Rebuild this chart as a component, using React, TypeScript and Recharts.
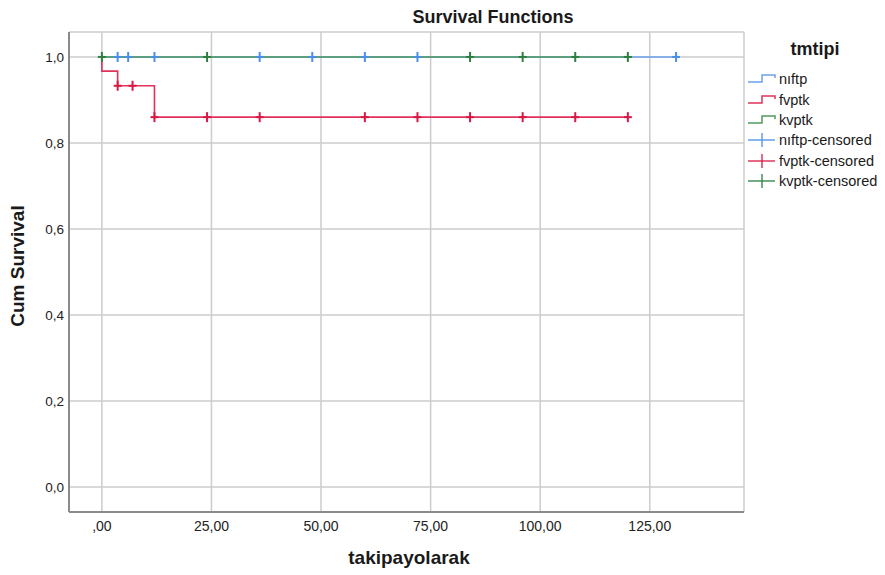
import {
  ComposedChart,
  Line,
  Scatter,
  XAxis,
  YAxis,
  CartesianGrid,
} from 'recharts'

// step vertices (time, cum survival) per group
const niftpTimes = [0, 131]
const niftpSurv = [1, 1]
const fvptkTimes = [0, 0, 3.6, 12, 120]
const fvptkSurv = [1, 0.967, 0.933, 0.86, 0.86]
const kvptkTimes = [0, 120]
const kvptkSurv = [1, 1]

// censored cases
const niftpCensT = [3.6, 6, 12, 36, 48, 60, 72, 131]
const niftpCensS = [1, 1, 1, 1, 1, 1, 1, 1]
const fvptkCensT = [3.6, 7, 12, 24, 36, 60, 72, 84, 96, 108, 120]
const fvptkCensS = [0.933, 0.933, 0.86, 0.86, 0.86, 0.86, 0.86, 0.86, 0.86, 0.86, 0.86]
const kvptkCensT = [0, 24, 84, 96, 108, 120]
const kvptkCensS = [1, 1, 1, 1, 1, 1]

const xTicks = [0, 25, 50, 75, 100, 125]
const yTicks = [0, 0.2, 0.4, 0.6, 0.8, 1]

const groups = ['nıftp', 'fvptk', 'kvptk']
const LINE_COLORS = ['#6ea2ea', '#e0325a', '#4f9a5f']
const CENS_COLORS = ['#4a8fe6', '#d81843', '#2b7f40']

const zip = (t: number[], s: number[]) => t.map((v, i) => ({ t: v, s: s[i] }))

const FONT = '"Liberation Sans", Arial, sans-serif'

const Cross = (color: string) => (props: any) => {
  const { cx, cy } = props
  if (cx == null || cy == null) return <g />
  return (
    <g stroke={color} strokeWidth={2}>
      <line x1={cx - 4} y1={cy} x2={cx + 4} y2={cy} />
      <line x1={cx} y1={cy - 5} x2={cx} y2={cy + 5} />
    </g>
  )
}

const fmtX = (v: number) => (v === 0 ? ',00' : v.toFixed(2).replace('.', ','))
const fmtY = (v: number) => v.toFixed(1).replace('.', ',')

function StepIcon({ color }: { color: string }) {
  return (
    <svg width={28} height={12} style={{ display: 'block' }}>
      <polyline
        points='0,9 14,9 14,2 27,2 27,5'
        fill='none'
        stroke={color}
        strokeWidth={1.5}
      />
    </svg>
  )
}

function CrossIcon({ color }: { color: string }) {
  return (
    <svg width={28} height={14} style={{ display: 'block' }}>
      <g stroke={color} strokeWidth={1.3}>
        <line x1={0} y1={7} x2={27} y2={7} />
        <line x1={14} y1={0} x2={14} y2={14} />
      </g>
    </svg>
  )
}

export default function App() {
  const lines = [
    zip(niftpTimes, niftpSurv),
    zip(fvptkTimes, fvptkSurv),
    zip(kvptkTimes, kvptkSurv),
  ]
  const cens = [
    zip(niftpCensT, niftpCensS),
    zip(fvptkCensT, fvptkCensS),
    zip(kvptkCensT, kvptkCensS),
  ]

  return (
    <div
      style={{
        position: 'absolute',
        left: 0,
        top: 0,
        width: 885,
        height: 575,
        background: '#fff',
        fontFamily: FONT,
        color: '#1a1a1a',
      }}
    >
      <ComposedChart
        width={885}
        height={575}
        margin={{ top: 32, right: 141, bottom: 0, left: 0 }}
      >
        <CartesianGrid stroke='#cccccc' strokeWidth={1.5} />
        <XAxis
          dataKey='t'
          type='number'
          domain={[-7.5, 146.5]}
          ticks={xTicks}
          tickFormatter={fmtX}
          allowDataOverflow
          height={63}
          tickSize={0}
          tickMargin={9}
          axisLine={{ stroke: '#8a8a8a', strokeWidth: 2 }}
          tick={{ fill: '#222', fontSize: 14, fontFamily: FONT }}
        />
        <YAxis
          type='number'
          domain={[-0.058, 1.058]}
          ticks={yTicks}
          tickFormatter={fmtY}
          allowDataOverflow
          width={69}
          tickSize={0}
          tickMargin={5}
          axisLine={{ stroke: '#8a8a8a', strokeWidth: 2 }}
          tick={{ fill: '#222', fontSize: 13.5, fontFamily: FONT }}
        />
        {lines.map((d, i) => (
          <Line
            key={groups[i]}
            data={d}
            dataKey='s'
            type='stepAfter'
            stroke={LINE_COLORS[i]}
            strokeWidth={1.6}
            dot={false}
            activeDot={false}
            isAnimationActive={false}
          />
        ))}
        {cens.map((d, i) => (
          <Scatter
            key={groups[i] + '-c'}
            data={d}
            dataKey='s'
            shape={Cross(CENS_COLORS[i])}
            isAnimationActive={false}
          />
        ))}
      </ComposedChart>

      <div
        style={{
          position: 'absolute',
          left: 0,
          width: 986,
          top: 7,
          textAlign: 'center',
          fontSize: 18,
          fontWeight: 'bold',
        }}
      >
        Survival Functions
      </div>
      <div
        style={{
          position: 'absolute',
          left: 69,
          width: 680,
          top: 547,
          textAlign: 'center',
          fontSize: 19,
          fontWeight: 'bold',
        }}
      >
        takipayolarak
      </div>
      <div
        style={{
          position: 'absolute',
          left: 18,
          top: 266,
          transform: 'translate(-50%, -50%) rotate(-90deg)',
          whiteSpace: 'nowrap',
          fontSize: 19,
          fontWeight: 'bold',
        }}
      >
        Cum Survival
      </div>

      <div style={{ position: 'absolute', left: 748, top: 39 }}>
        <div
          style={{
            width: 134,
            textAlign: 'center',
            fontSize: 18,
            fontWeight: 'bold',
            marginBottom: 9,
          }}
        >
          tmtipi
        </div>
        {groups.map((g, i) => (
          <div
            key={g}
            style={{ display: 'flex', alignItems: 'center', height: 20.4, fontSize: 14.5 }}
          >
            <StepIcon color={LINE_COLORS[i]} />
            <span style={{ marginLeft: 3 }}>{g}</span>
          </div>
        ))}
        {groups.map((g, i) => (
          <div
            key={g + '-c'}
            style={{ display: 'flex', alignItems: 'center', height: 20.4, fontSize: 14.5 }}
          >
            <CrossIcon color={CENS_COLORS[i]} />
            <span style={{ marginLeft: 3 }}>{g}-censored</span>
          </div>
        ))}
      </div>
    </div>
  )
}
